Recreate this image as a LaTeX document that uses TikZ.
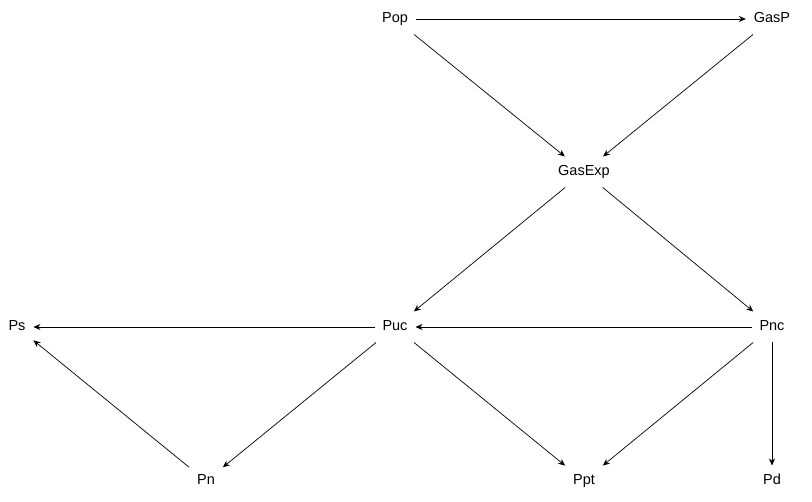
\documentclass[tikz,border=0pt]{standalone}
\usepackage{fontspec}
\setmainfont{Liberation Sans}
\usetikzlibrary{arrows.meta}
\begin{document}
\begin{tikzpicture}[x=1pt,y=-1pt,
  vnode/.style={font=\fontsize{14.5}{16}\selectfont, inner sep=8pt, outer sep=0pt, text height=11pt, text depth=4pt},
  edge/.style={draw=black, line width=0.7pt, -{Stealth[length=7pt,width=6pt]}}]
\useasboundingbox (0,0) rectangle (812,502);
\node[vnode] (Pop) at (395,19) {Pop};
\node[vnode] (GasP) at (772,19) {GasP};
\node[vnode] (GasExp) at (584,172) {GasExp};
\node[vnode] (Ps) at (17,327) {Ps};
\node[vnode] (Puc) at (395,327) {Puc};
\node[vnode] (Pnc) at (772,327) {Pnc};
\node[vnode] (Pn) at (206,481) {Pn};
\node[vnode] (Ppt) at (584,481) {Ppt};
\node[vnode] (Pd) at (772,481) {Pd};
\draw[edge] (Pop) -- (GasP);
\draw[edge] (Pop) -- (GasExp);
\draw[edge] (GasP) -- (GasExp);
\draw[edge] (GasExp) -- (Puc);
\draw[edge] (GasExp) -- (Pnc);
\draw[edge] (Puc) -- (Ps);
\draw[edge] (Pnc) -- (Puc);
\draw[edge] (Puc) -- (Pn);
\draw[edge] (Puc) -- (Ppt);
\draw[edge] (Pnc) -- (Ppt);
\draw[edge] (Pnc) -- (Pd);
\draw[edge] (Pn) -- (Ps);
\end{tikzpicture}
\end{document}
